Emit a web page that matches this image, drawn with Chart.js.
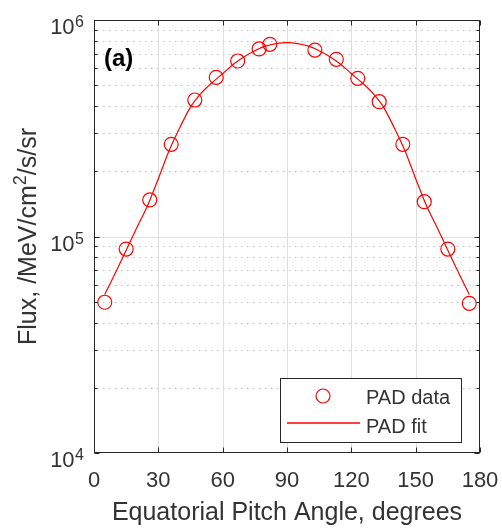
<!DOCTYPE html>
<html lang="en">
<head>
  <meta charset="UTF-8">
  <title>PAD fit</title>
  <script src="https://cdn.jsdelivr.net/npm/chart.js"></script>
  <style>
    body {
      margin: 0;
      padding: 0;
      background: white;
    }

    .chart-box {
      position: relative;
      width: 502px;
      height: 531px;
    }
  </style>
</head>
<body>
  <div class="chart-box">
    <canvas id="padChart"></canvas>
  </div>

  <script>
    // measured pitch angle distribution
    const angles = [5, 15, 26, 36, 47, 57, 67, 77, 82, 103, 113, 123, 133, 144, 154, 165, 175];
    const fluxData = [49700, 87500, 147500, 266500, 427000, 543500, 646600, 734800, 772000,
                      726600, 658300, 538000, 419400, 266500, 144800, 87500, 49150];

    // fitted curve
    const fitAngles = [5, 10, 15, 20, 25, 30, 35, 40, 45, 50, 55, 60, 65, 70, 75, 80, 85, 90,
                       95, 100, 105, 110, 115, 120, 125, 130, 135, 140, 145, 150, 155, 160, 165, 170, 175];
    const fitFlux = [54000, 68000, 86500, 110000, 139000, 185000, 249000, 318000, 396000, 459000,
                     513000, 565000, 625000, 677000, 721000, 757000, 778000, 786000, 778000, 757000,
                     721000, 677000, 625000, 565000, 513000, 459000, 396000, 318000, 249000, 185000,
                     139000, 110000, 86500, 68000, 54000];

    // axis ticks
    const xTicks = [0, 30, 60, 90, 120, 150, 180];
    const yMajorTicks = [1e4, 1e5, 1e6];
    const yExponents = ['4', '5', '6'];
    const yMinorTicks = [2e4, 3e4, 4e4, 5e4, 6e4, 7e4, 8e4, 9e4, 2e5, 3e5, 4e5, 5e5, 6e5, 7e5, 8e5, 9e5];

    const axisColor = '#262626';
    const textColor = '#333333';
    const red = '#ff0000';
    const fontName = '"Liberation Sans", Arial, sans-serif';

    // grid lines behind the data
    const gridPlugin = {
      id: 'matlabGrid',
      beforeDatasetsDraw(chart) {
        const { ctx, chartArea: a, scales: { x, y } } = chart;
        ctx.save();
        ctx.lineWidth = 1;

        // dotted minor lines
        ctx.strokeStyle = '#bcbcbc';
        ctx.setLineDash([1.5, 4.5]);
        yMinorTicks.forEach(v => {
          const py = Math.round(y.getPixelForValue(v)) + 0.5;
          ctx.beginPath();
          ctx.moveTo(a.left + 3, py);
          ctx.lineTo(a.right, py);
          ctx.stroke();
        });

        // solid major lines
        ctx.setLineDash([]);
        ctx.strokeStyle = '#dedede';
        xTicks.slice(1, -1).forEach(v => {
          const px = Math.round(x.getPixelForValue(v)) + 0.5;
          ctx.beginPath();
          ctx.moveTo(px, a.top);
          ctx.lineTo(px, a.bottom);
          ctx.stroke();
        });
        yMajorTicks.slice(1, -1).forEach(v => {
          const py = Math.round(y.getPixelForValue(v)) + 0.5;
          ctx.beginPath();
          ctx.moveTo(a.left, py);
          ctx.lineTo(a.right, py);
          ctx.stroke();
        });
        ctx.restore();
      },

      afterDatasetsDraw(chart) {
        const { ctx, chartArea: a, scales: { x, y } } = chart;
        ctx.save();

        // axes box
        ctx.strokeStyle = axisColor;
        ctx.lineWidth = 1;
        const L = Math.round(a.left) + 0.5, R = Math.round(a.right) - 0.5;
        const T = Math.round(a.top) + 0.5, B = Math.round(a.bottom) - 0.5;
        ctx.strokeRect(L, T, R - L, B - T);

        // inward tick marks
        ctx.beginPath();
        xTicks.forEach(v => {
          const px = Math.round(x.getPixelForValue(v)) + 0.5;
          ctx.moveTo(px, B); ctx.lineTo(px, B - 5);
          ctx.moveTo(px, T); ctx.lineTo(px, T + 5);
        });
        yMajorTicks.forEach(v => {
          const py = Math.round(y.getPixelForValue(v)) + 0.5;
          ctx.moveTo(L, py); ctx.lineTo(L + 5, py);
          ctx.moveTo(R, py); ctx.lineTo(R - 5, py);
        });
        yMinorTicks.forEach(v => {
          const py = Math.round(y.getPixelForValue(v)) + 0.5;
          ctx.moveTo(L, py); ctx.lineTo(L + 3, py);
          ctx.moveTo(R, py); ctx.lineTo(R - 3, py);
        });
        ctx.stroke();

        // tick labels
        ctx.fillStyle = textColor;
        ctx.font = '22px ' + fontName;
        ctx.textAlign = 'center';
        ctx.textBaseline = 'alphabetic';
        xTicks.forEach(v => {
          ctx.fillText(String(v), x.getPixelForValue(v), 487);
        });

        yMajorTicks.forEach((v, i) => {
          const py = y.getPixelForValue(v);
          ctx.textAlign = 'right';
          ctx.font = '16px ' + fontName;
          ctx.fillText(yExponents[i], 84, py + 7);
          const ew = ctx.measureText(yExponents[i]).width;
          ctx.font = '22px ' + fontName;
          ctx.fillText('10', 84 - ew - 0.5, py + 14);
        });

        // x title
        ctx.textAlign = 'center';
        ctx.font = '25px ' + fontName;
        ctx.fillText('Equatorial Pitch Angle, degrees', (a.left + a.right) / 2, 520);

        // y title with superscript
        const p1 = 'Flux, /MeV/cm', sup = '2', p2 = '/s/sr';
        ctx.font = '25px ' + fontName;
        const w1 = ctx.measureText(p1).width, w3 = ctx.measureText(p2).width;
        ctx.font = '18px ' + fontName;
        const w2 = ctx.measureText(sup).width;
        const total = w1 + w2 + w3;
        ctx.save();
        ctx.translate(36, (a.top + a.bottom) / 2);
        ctx.rotate(-Math.PI / 2);
        ctx.textAlign = 'left';
        ctx.font = '25px ' + fontName;
        ctx.fillText(p1, -total / 2, 0);
        ctx.font = '18px ' + fontName;
        ctx.fillText(sup, -total / 2 + w1, -10);
        ctx.font = '25px ' + fontName;
        ctx.fillText(p2, -total / 2 + w1 + w2, 0);
        ctx.restore();

        // panel label
        ctx.textAlign = 'left';
        ctx.font = 'bold 24px ' + fontName;
        ctx.fillStyle = '#000';
        ctx.fillText('(a)', 104, 66);

        // legend box
        ctx.fillStyle = '#fff';
        ctx.fillRect(280, 378, 181, 64);
        ctx.strokeStyle = axisColor;
        ctx.lineWidth = 1;
        ctx.strokeRect(280.5, 378.5, 181, 64);

        ctx.lineWidth = 1.2;
        ctx.strokeStyle = red;
        ctx.beginPath();
        ctx.arc(323, 396, 7, 0, Math.PI * 2);
        ctx.stroke();

        ctx.strokeStyle = red;
        ctx.lineWidth = 1.4;
        ctx.beginPath();
        ctx.moveTo(287, 423);
        ctx.lineTo(360, 423);
        ctx.stroke();

        ctx.fillStyle = textColor;
        ctx.font = '20px ' + fontName;
        ctx.fillText('PAD data', 366, 404);
        ctx.fillText('PAD fit', 366, 433);

        ctx.restore();
      }
    };

    const ctx = document.getElementById('padChart').getContext('2d');
    const padChart = new Chart(ctx, {
      type: 'scatter',
      data: {
        datasets: [{
          label: 'PAD data',
          data: angles.map((a, i) => ({ x: a, y: fluxData[i] })),
          borderColor: red,
          backgroundColor: 'rgba(0,0,0,0)',
          borderWidth: 1.2,
          pointRadius: 7,
          pointHoverRadius: 7,
          showLine: false
        }, {
          label: 'PAD fit',
          data: fitAngles.map((a, i) => ({ x: a, y: fitFlux[i] })),
          borderColor: red,
          borderWidth: 1.2,
          pointRadius: 0,
          showLine: true,
          fill: false,
          cubicInterpolationMode: 'monotone'
        }]
      },
      options: {
        responsive: true,
        maintainAspectRatio: false,
        animation: false,
        layout: {
          padding: { left: 94, right: 22, top: 20, bottom: 78 }
        },
        plugins: {
          legend: { display: false },
          tooltip: { enabled: false }
        },
        scales: {
          x: {
            type: 'linear',
            display: false,
            min: 0,
            max: 180
          },
          y: {
            type: 'logarithmic',
            display: false,
            min: 1e4,
            max: 1e6
          }
        }
      },
      plugins: [gridPlugin]
    });
  </script>
</body>
</html>
